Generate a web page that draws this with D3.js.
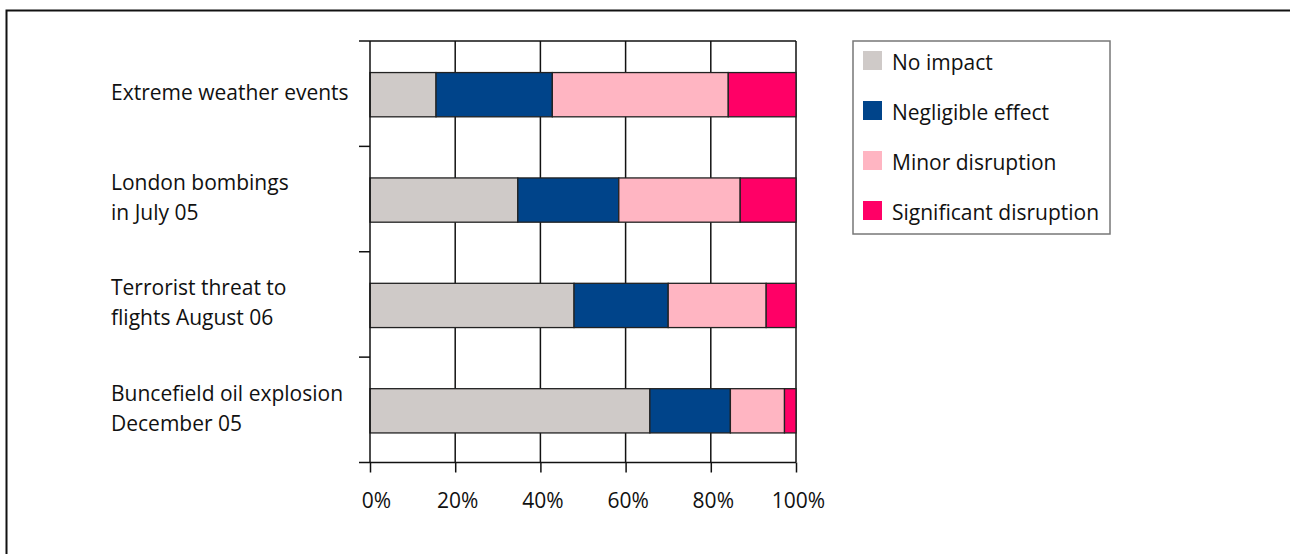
<!DOCTYPE html>
<html lang="en">
<head>
<meta charset="UTF-8">
<title>Impact of disruptive events</title>
<script src="https://d3js.org/d3.v7.min.js"></script>
<style>
  body { margin: 0; background: #fff; }
  text { font-family: "Open Sans", sans-serif; fill: #111; }
</style>
</head>
<body>
<div id="chart"></div>
<script>
// data (percent of respondents)
var categories = [
  ["Extreme weather events"],
  ["London bombings", "in July 05"],
  ["Terrorist threat to", "flights August 06"],
  ["Buncefield oil explosion", "December 05"]
];
var seriesNames = ["No impact", "Negligible effect", "Minor disruption", "Significant disruption"];
var noImpact    = [15.5, 34.7, 47.9, 65.7];
var negligible  = [27.3, 23.7, 22.1, 18.9];
var minor       = [41.3, 28.5, 23.0, 12.7];
var significant = [15.9, 13.1, 7.0, 2.7];
var xTicks = [0, 20, 40, 60, 80, 100];
var colors = ["#cfcac8", "#00448a", "#ffb5c2", "#ff0066"];

var width = 1290, height = 554;
var svg = d3.select("#chart").append("svg")
  .attr("width", width)
  .attr("height", height);

// outer frame (only top and left edges visible)
svg.append("path")
  .attr("d", "M6.5," + height + "V10.5H" + width)
  .attr("fill", "none")
  .attr("stroke", "#111")
  .attr("stroke-width", 2);

var rows = categories.map(function(c, i) {
  return { key: i, label: c, "No impact": noImpact[i], "Negligible effect": negligible[i],
           "Minor disruption": minor[i], "Significant disruption": significant[i] };
});

var x = d3.scaleLinear().domain([0, 100]).range([370, 796]);
var y = d3.scaleBand()
  .domain(rows.map(function(d){ return d.key; }))
  .range([41, 462.5])
  .paddingInner(0.58)
  .paddingOuter(0.29);

var color = d3.scaleOrdinal().domain(seriesNames).range(colors);

// vertical grid lines
svg.append("g")
  .selectAll("line")
  .data(xTicks.slice(1))
  .enter().append("line")
    .attr("x1", function(d){ return x(d); })
    .attr("x2", function(d){ return x(d); })
    .attr("y1", 41)
    .attr("y2", 462.5)
    .attr("stroke", "#111")
    .attr("stroke-width", 1.5);

// top border of plot
svg.append("line")
  .attr("x1", 359).attr("x2", x(100))
  .attr("y1", 41).attr("y2", 41)
  .attr("stroke", "#111").attr("stroke-width", 1.5);

// stacked bars
var stack = d3.stack().keys(seriesNames);
var layers = stack(rows);

svg.append("g")
  .selectAll("g")
  .data(layers)
  .enter().append("g")
    .attr("fill", function(d){ return color(d.key); })
  .selectAll("rect")
  .data(function(d){ return d; })
  .enter().append("rect")
    .attr("x", function(d){ return x(d[0]); })
    .attr("width", function(d){ return x(d[1]) - x(d[0]); })
    .attr("y", function(d){ return y(d.data.key) + 1; })
    .attr("height", y.bandwidth())
    .attr("stroke", "#222")
    .attr("stroke-width", 1.3);

// x axis
var xAxis = d3.axisBottom(x)
  .tickValues(xTicks)
  .tickFormat(function(d){ return d + "%"; })
  .tickSize(10)
  .tickPadding(21);

var gx = svg.append("g")
  .attr("transform", "translate(0,462.5)")
  .call(xAxis);
gx.select(".domain").remove();
gx.selectAll(".tick line").attr("stroke", "#111").attr("stroke-width", 1.5);
gx.selectAll(".tick text")
  .attr("font-family", "Open Sans, sans-serif")
  .attr("font-size", 21)
  .attr("fill", "#111")
  .attr("dx", function(d){ return d === 0 ? 6 : 2; });
gx.append("line")
  .attr("x1", 359).attr("x2", x(100))
  .attr("stroke", "#111").attr("stroke-width", 1.5);

// y axis line and category boundary ticks
svg.append("line")
  .attr("x1", 370).attr("x2", 370)
  .attr("y1", 41).attr("y2", 462.5)
  .attr("stroke", "#111").attr("stroke-width", 1.5);

var bounds = d3.range(categories.length + 1).map(function(i){ return 41 + i * y.step(); });
svg.append("g")
  .selectAll("line")
  .data(bounds.slice(1, -1))
  .enter().append("line")
    .attr("x1", 359).attr("x2", 370)
    .attr("y1", function(d){ return d; })
    .attr("y2", function(d){ return d; })
    .attr("stroke", "#111").attr("stroke-width", 1.5);

// category labels
var lineH = 30;
var labels = svg.append("g")
  .selectAll("text")
  .data(rows)
  .enter().append("text")
    .attr("x", 111)
    .attr("font-size", 21)
    .attr("dominant-baseline", "central");
labels.each(function(d) {
  var cy = y(d.key) + y.bandwidth() / 2 - 2;
  var n = d.label.length;
  d3.select(this).selectAll("tspan")
    .data(d.label)
    .enter().append("tspan")
      .attr("x", 111)
      .attr("y", function(t, j){ return cy + (j - (n - 1) / 2) * lineH; })
      .text(function(t){ return t; });
});

// legend
var legend = svg.append("g").attr("transform", "translate(853,41)");
legend.append("rect")
  .attr("width", 257).attr("height", 193)
  .attr("fill", "#fff")
  .attr("stroke", "#777")
  .attr("stroke-width", 1.5);

var item = legend.selectAll(".item")
  .data(seriesNames)
  .enter().append("g")
    .attr("class", "item")
    .attr("transform", function(d, i){ return "translate(10," + (10 + i * 50) + ")"; });
item.append("rect")
  .attr("width", 19).attr("height", 19)
  .attr("fill", function(d){ return color(d); });
item.append("text")
  .attr("x", 29)
  .attr("y", 11)
  .attr("font-size", 21)
  .attr("dominant-baseline", "central")
  .text(function(d){ return d; });
</script>
</body>
</html>
